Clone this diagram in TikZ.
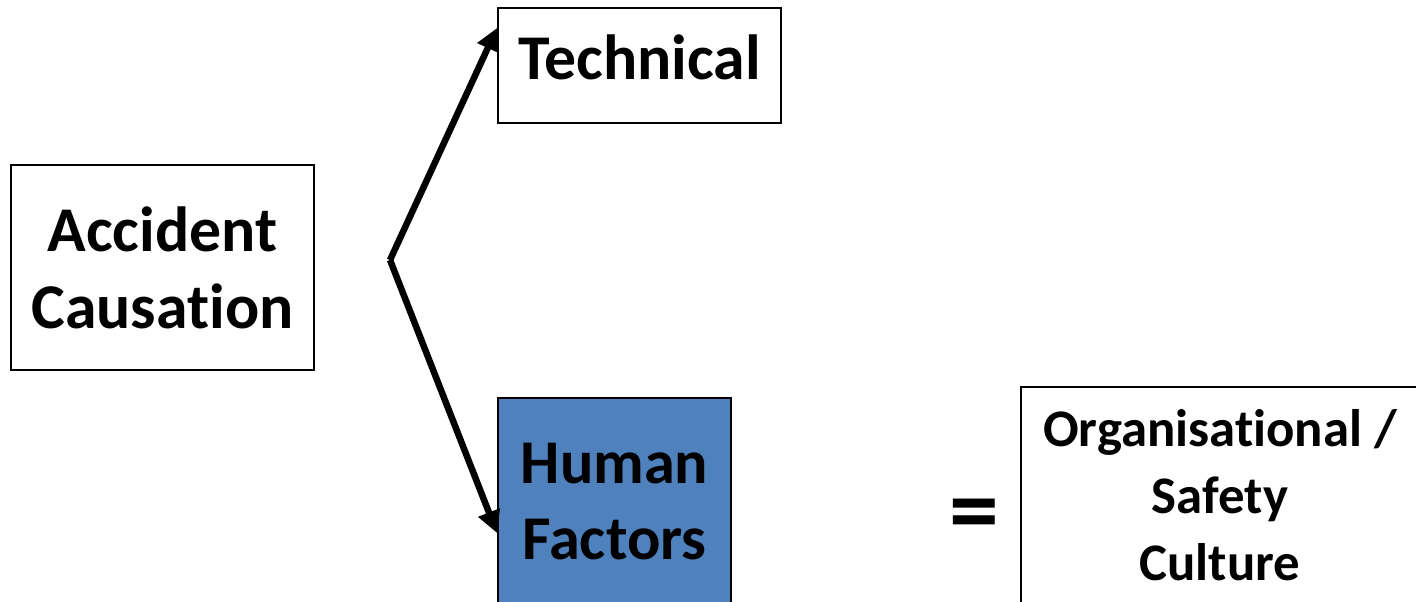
\documentclass[tikz,border=0pt]{standalone}
\usepackage{fontspec}
\setmainfont[Ligatures=NoCommon]{Carlito}
\usetikzlibrary{arrows.meta}
\begin{document}
\begin{tikzpicture}[x=1bp,y=-1bp,
  box/.style={draw=black,line width=1.5bp,inner sep=0pt},
  label/.style={inner sep=0pt,align=center,anchor=base,
    font=\bfseries\fontsize{64}{77}\selectfont},
  link/.style={line width=6.5bp,line join=miter,
    -{Triangle[length=22bp,width=22bp]}}]
\useasboundingbox (0,0) rectangle (1416,602);
\clip (0,0) rectangle (1416,602);
% boxes
\node[box,minimum width=303bp,minimum height=205bp] (acc) at (162.5,267.5) {};
\node[box,minimum width=283bp,minimum height=115bp] (tech) at (639.5,65.5) {};
\node[box,fill={rgb,255:red,79;green,129;blue,189},minimum width=233bp,minimum height=224bp] (hf) at (614.5,510) {};
\node[box,minimum width=400bp,minimum height=240bp] (org) at (1221,507) {};
% box texts (anchored at the baseline of their last line)
\node[label] (acct) at (162.5,328) {Accident\\Causation};
\node[label] (techt) at (639.5,80) {Technical};
\node[label,font=\bfseries\fontsize{62.5}{76}\selectfont] (hft) at (614.5,559) {Human\\Factors};
\node[label,font=\bfseries\fontsize{53}{67}\selectfont] (orgt) at (1220,580) {Organisational /\\Safety\\Culture};
\node[font=\bfseries\fontsize{100}{100}\selectfont,inner sep=0pt] (eq) at (974,521) {=};
% connectors
\coordinate (apex) at (390,260);
\coordinate (t1) at (497,28);
\coordinate (t2) at (497,533);
\draw[link] (apex) -- (t1);
\draw[link] (apex) -- (t2);
\end{tikzpicture}
\end{document}
